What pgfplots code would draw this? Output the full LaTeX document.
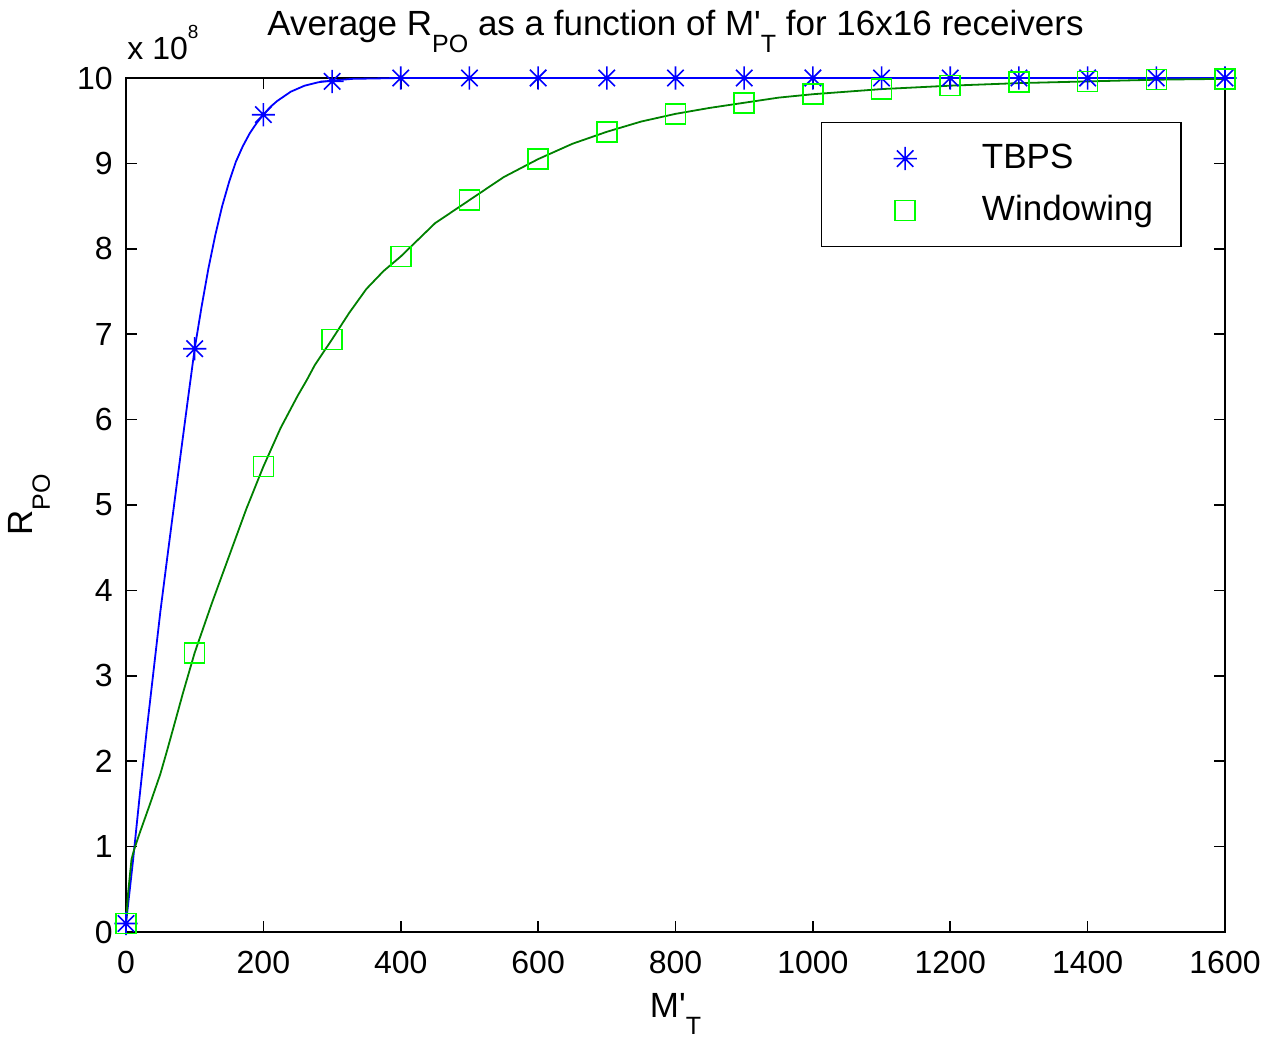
\documentclass[border=0pt]{standalone}
\usepackage{fontspec}
\setmainfont{Liberation Sans}
\usepackage{pgfplots}
\pgfplotsset{compat=1.18}
\definecolor{mblue}{rgb}{0,0,1}
\definecolor{mgreen}{rgb}{0,1,0}
\definecolor{mdgreen}{rgb}{0,0.5,0}
\newcommand\fs{\fontsize{16}{19}\selectfont}
\newcommand\fl{\fontsize{17.5}{21}\selectfont}
\newcommand\sub[1]{\raisebox{-8.5pt}{\fontsize{12.5}{13}\selectfont #1}}
\pgfdeclareplotmark{mstar}{%
  \pgfpathmoveto{\pgfqpoint{0pt}{\pgfplotmarksize}}\pgfpathlineto{\pgfqpoint{0pt}{-\pgfplotmarksize}}%
  \pgfpathmoveto{\pgfqpoint{\pgfplotmarksize}{0pt}}\pgfpathlineto{\pgfqpoint{-\pgfplotmarksize}{0pt}}%
  \pgfpathmoveto{\pgfqpoint{0.7071\pgfplotmarksize}{0.7071\pgfplotmarksize}}\pgfpathlineto{\pgfqpoint{-0.7071\pgfplotmarksize}{-0.7071\pgfplotmarksize}}%
  \pgfpathmoveto{\pgfqpoint{0.7071\pgfplotmarksize}{-0.7071\pgfplotmarksize}}\pgfpathlineto{\pgfqpoint{-0.7071\pgfplotmarksize}{0.7071\pgfplotmarksize}}%
  \pgfusepathqstroke}
\pgfplotsset{mleg/.style={legend image code/.code={\path (0pt,0pt) (79.5pt,0pt); \draw[##1] plot coordinates {(41.5pt,0pt)};}}}
\begin{document}
\begin{tikzpicture}
\begin{axis}[
  scale only axis, width=549.5pt, height=427pt,
  xmin=0, xmax=1600, ymin=0, ymax=10,
  xtick={0,200,...,1600}, ytick={0,1,...,10},
  tick align=inside, major tick length=5.5pt,
  axis line style={line width=0.8pt},
  tick style={line width=0.8pt, black},
  ticklabel style={font=\fs},
  /pgf/number format/assume math mode=true,
  /pgf/number format/1000 sep={},
  scaled ticks=false,
  xticklabel style={text height=11.5pt, inner sep=0pt, yshift=-9pt},
  yticklabel style={inner sep=0pt, xshift=-6.5pt},
  clip=false,
  legend cell align=left,
  legend style={at={(0.9605,0.9485)}, anchor=north east, draw=black, line width=0.6pt, fill=white,
    inner xsep=0pt, inner ysep=8pt, row sep=6pt, column sep=0pt, font=\fl,
    nodes={inner xsep=0pt, inner ysep=2pt, text height=13pt, text depth=3pt, text width=99.5pt, align=left, anchor=west}},
]
\addplot[mblue, line width=0.9pt, mark=none, forget plot] coordinates {
(0,0.1) (10,0.82) (20,1.6) (30,2.35) (40,3.05) (50,3.75) (60,4.38) (70,5.0) (80,5.62) (90,6.23) (100,6.83)
(110,7.32) (120,7.77) (130,8.16) (140,8.5) (150,8.78) (160,9.02) (170,9.2) (180,9.35) (190,9.47) (200,9.57)
(210,9.66) (220,9.73) (240,9.84) (260,9.91) (280,9.95) (300,9.97) (330,9.99) (400,10) (1600,10)};
\addplot[mdgreen, line width=0.9pt, mark=none, forget plot] coordinates {
(0,0.1) (3,0.45) (8,0.85) (12,0.97) (20,1.16) (35,1.5) (50,1.85) (60,2.13) (70,2.42) (83,2.8) (100,3.27)
(125,3.85) (150,4.4) (175,4.95) (200,5.45) (225,5.9) (250,6.28) (263,6.46) (275,6.64) (300,6.94)
(325,7.25) (350,7.53) (375,7.74) (400,7.91) (450,8.3) (500,8.57) (550,8.84) (600,9.05) (650,9.23)
(700,9.37) (750,9.49) (800,9.58) (850,9.65) (900,9.71) (950,9.77) (1000,9.81) (1100,9.87) (1200,9.91)
(1300,9.94) (1400,9.96) (1500,9.98) (1600,9.99)};
\addplot[mblue, only marks, mark=mstar, mark size=5.8pt, line width=0.8pt, mleg]
  coordinates {(0,0.1) (100,6.83) (200,9.57) (300,9.96) (400,10) (500,10) (600,10) (700,10) (800,10)
  (900,10) (1000,10) (1100,10) (1200,10) (1300,10) (1400,10) (1500,10) (1600,10)};
\addlegendentry{TBPS}
\addplot[mgreen, only marks, mark=square, mark size=5pt, line width=0.8pt, mleg]
  coordinates {(0,0.1) (100,3.27) (200,5.45) (300,6.94) (400,7.91) (500,8.57) (600,9.05) (700,9.37)
  (800,9.58) (900,9.71) (1000,9.81) (1100,9.87) (1200,9.91) (1300,9.95) (1400,9.96) (1500,9.98) (1600,9.99)};
\addlegendentry{Windowing}
\end{axis}
\node[anchor=base, font=\fl] at (274.75pt,448pt) {Average R\sub{PO} as a function of M\textquotesingle\sub{T} for 16x16 receivers};
\node[anchor=base west, font=\fs, inner sep=0pt] at (0.5pt,436pt) {x 10\raisebox{10.5pt}{\fontsize{9.5}{10}\selectfont 8}};
\node[anchor=base, font=\fl] at (274.75pt,-43pt) {M\textquotesingle\sub{T}};
\node[anchor=base, rotate=90, font=\fl] at (-46.5pt,213.5pt) {R\sub{PO}};
\pgfresetboundingbox
\useasboundingbox (-63pt,-53pt) rectangle (574pt,466pt);
\end{tikzpicture}
\end{document}
